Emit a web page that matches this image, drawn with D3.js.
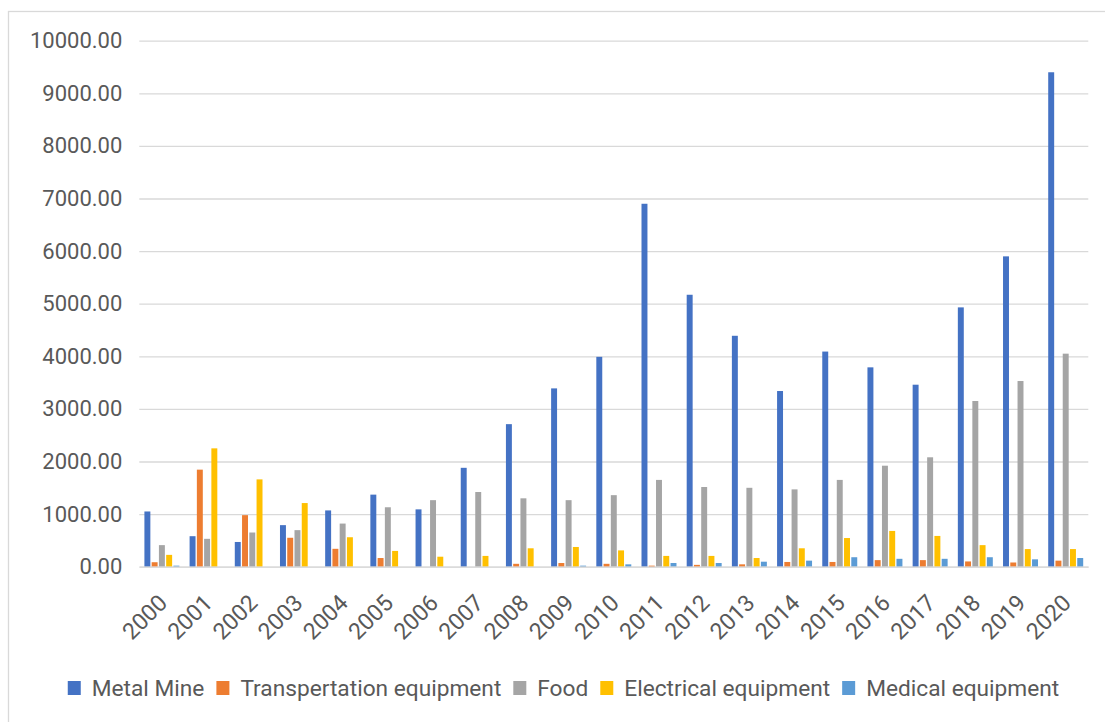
<!DOCTYPE html>
<html>
<head>
<meta charset="utf-8">
<script src="https://cdn.jsdelivr.net/npm/d3@7"></script>
<style>
  html, body { margin: 0; padding: 0; background: #ffffff; }
  svg { display: block; }
  text { font-family: Roboto, "Noto Sans", sans-serif; fill: #595959; }
</style>
</head>
<body>
<svg id="chart" width="1105" height="722"></svg>
<script>
const years = ["2000","2001","2002","2003","2004","2005","2006","2007","2008","2009","2010","2011","2012","2013","2014","2015","2016","2017","2018","2019","2020"];
const seriesNames = ["Metal Mine", "Transpertation equipment", "Food", "Electrical equipment", "Medical equipment"];
const metalMine = [1050, 580, 470, 790, 1070, 1370, 1090, 1880, 2710, 3390, 3990, 6900, 5170, 4390, 3340, 4090, 3790, 3460, 4930, 5900, 9400];
const transpertation = [85, 1845, 980, 550, 340, 165, 0, 0, 55, 70, 55, 20, 35, 45, 90, 90, 125, 125, 100, 80, 115];
const food = [410, 530, 650, 695, 820, 1130, 1265, 1420, 1300, 1265, 1360, 1650, 1515, 1500, 1470, 1650, 1920, 2080, 3150, 3530, 4050];
const electrical = [225, 2250, 1660, 1210, 560, 300, 190, 205, 350, 375, 310, 205, 205, 165, 350, 545, 680, 585, 410, 335, 335];
const medical = [20, 0, 0, 0, 0, 0, 0, 0, 0, 20, 45, 70, 70, 95, 115, 180, 150, 150, 180, 140, 165];
const yTicks = [0, 1000, 2000, 3000, 4000, 5000, 6000, 7000, 8000, 9000, 10000];
const colors = ["#4472C4", "#ED7D31", "#A5A5A5", "#FFC000", "#5B9BD5"];

const seriesValues = [metalMine, transpertation, food, electrical, medical];
const rows = years.map((y, i) => ({ year: y, values: seriesValues.map((s, k) => ({ key: seriesNames[k], value: s[i], k })) }));

const svg = d3.select("#chart");

// chart frame
svg.append("rect")
  .attr("x", 8.5).attr("y", 11.5)
  .attr("width", 1110).attr("height", 730)
  .attr("fill", "none").attr("stroke", "#D9D9D9").attr("stroke-width", 1.3);

const plotLeft = 139.3, plotRight = 1088.3, plotTop = 40.7, plotBottom = 566.7;

const x0 = d3.scaleBand().domain(years).range([plotLeft, plotRight]).paddingInner(0.226).paddingOuter(0.113);
const x1 = d3.scaleBand().domain(seriesNames).range([0, x0.bandwidth()]).paddingInner(0.18);
const y = d3.scaleLinear().domain([0, 10000]).range([plotBottom, plotTop]);

// gridlines + y labels
const yAxis = d3.axisLeft(y).tickValues(yTicks).tickSize(-(plotRight - plotLeft)).tickPadding(17).tickFormat(d3.format(".2f"));
const gy = svg.append("g").attr("transform", `translate(${plotLeft},0)`).call(yAxis);
gy.select(".domain").remove();
gy.selectAll(".tick line").attr("stroke", "#D9D9D9").attr("stroke-width", 1.3);
gy.selectAll(".tick text").style("font-size", "22px").attr("fill", "#595959");

// bars
const groups = svg.append("g").selectAll("g").data(rows).join("g")
  .attr("transform", d => `translate(${x0(d.year)},0)`);
groups.selectAll("rect").data(d => d.values).join("rect")
  .attr("x", d => x1(d.key))
  .attr("width", x1.bandwidth())
  .attr("y", d => y(d.value))
  .attr("height", d => y(0) - y(d.value))
  .attr("fill", d => colors[d.k]);

// x axis
const xAxis = d3.axisBottom(x0).tickSize(0).tickPadding(0);
const gx = svg.append("g").attr("transform", `translate(0,${plotBottom})`).call(xAxis);
gx.select(".domain").attr("stroke", "#D9D9D9").attr("stroke-width", 1.3);
gx.selectAll(".tick text")
  .style("font-size", "23px")
  .attr("fill", "#595959")
  .attr("text-anchor", "end")
  .attr("dy", "0.35em")
  .attr("transform", "translate(1,32) rotate(-45)");

// legend
const legend = svg.append("g");
const items = legend.selectAll("g").data(seriesNames).join("g");
items.append("rect").attr("width", 13).attr("height", 14).attr("fill", (d, i) => colors[i]);
items.append("text").text(d => d).style("font-size", "22.7px").attr("x", 24).attr("y", 7).attr("dy", "0.35em");
let widths = [];
items.each(function() { widths.push(this.querySelector("text").getComputedTextLength()); });
const gap = 12;
const total = widths.reduce((a, w) => a + 24 + w, 0) + gap * (widths.length - 1);
let cx = 563.5 - total / 2;
items.attr("transform", (d, i) => { const t = `translate(${cx},${681})`; cx += 24 + widths[i] + gap; return t; });
</script>
</body>
</html>
